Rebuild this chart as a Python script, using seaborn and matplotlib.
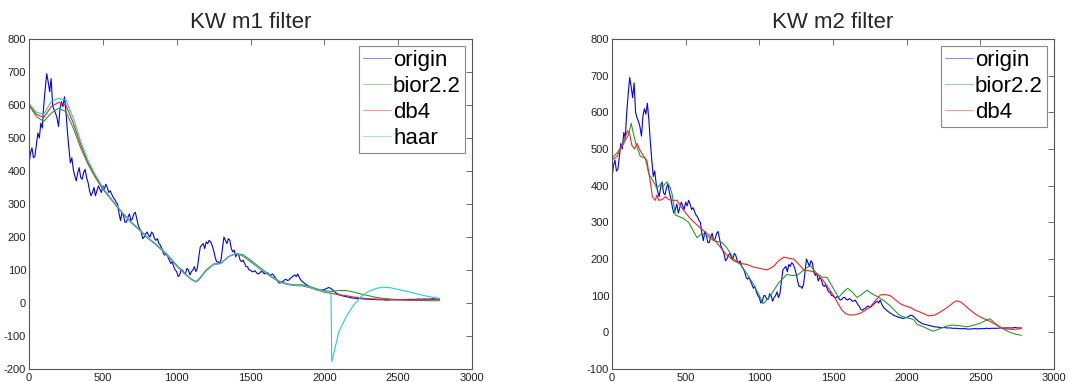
import matplotlib
matplotlib.use("Agg")
import matplotlib.pyplot as plt
import seaborn as sns

# ---- data ----
origin_x = list(range(0, 2781, 10))
origin_y = [420, 455, 470, 440, 445, 480, 515, 500, 545, 530,
            600, 650, 695, 670, 640, 680, 600, 585, 575, 560,
            535, 590, 610, 595, 625, 580, 520, 470, 425, 440,
            405, 385, 370, 395, 410, 380, 375, 395, 405, 380,
            365, 340, 325, 335, 350, 325, 340, 355, 345, 335,
            355, 345, 360, 350, 335, 340, 330, 320, 315, 305,
            300, 270, 250, 275, 265, 245, 245, 260, 270, 250,
            255, 270, 275, 255, 235, 225, 215, 195, 200, 210,
            215, 205, 200, 215, 210, 195, 190, 195, 180, 175,
            165, 150, 145, 150, 140, 130, 120, 125, 110, 100,
            95, 80, 85, 100, 100, 90, 90, 105, 100, 85,
            95, 100, 110, 95, 105, 140, 170, 175, 180, 165,
            185, 180, 190, 185, 175, 160, 140, 125, 125, 120,
            130, 165, 200, 190, 180, 195, 190, 165, 155, 160,
            140, 150, 145, 130, 125, 130, 120, 110, 110, 100,
            100, 95, 95, 98, 92, 88, 90, 95, 95, 90,
            88, 92, 90, 85, 85, 88, 82, 75, 70, 62,
            60, 64, 65, 70, 72, 68, 70, 75, 78, 82,
            85, 80, 88, 78, 70, 65, 62, 58, 55, 52,
            50, 47, 45, 44, 42, 40, 40, 38, 38, 40,
            40, 43, 45, 47, 45, 42, 38, 34, 30, 28,
            25, 23, 22, 21, 20, 19, 18, 17, 16, 15,
            15, 14, 14, 13, 13, 13, 13, 12, 12, 12,
            12, 11, 11, 11, 11, 10, 10, 10, 10, 10,
            10, 9, 9, 9, 9, 10, 10, 10, 9, 10,
            10, 10, 10, 10, 11, 11, 10, 11, 11, 11,
            11, 11, 11, 12, 12, 11, 12, 12, 12, 12,
            12, 12, 12, 13, 13, 12, 12, 12, 12]

m1_x = [0, 50, 100, 150, 200, 250, 300, 350, 400, 450,
        500, 550, 600, 650, 700, 750, 800, 850, 900, 950,
        1000, 1050, 1100, 1130, 1150, 1200, 1250, 1300, 1350, 1400,
        1450, 1500, 1550, 1600, 1650, 1700, 1750, 1800, 1850, 1900,
        1950, 2000, 2050, 2100, 2150, 2200, 2250, 2300, 2350, 2400,
        2450, 2500, 2550, 2600, 2650, 2700, 2780]
m1_bior = [600, 565, 550, 575, 590, 580, 530, 470, 420, 380,
           345, 318, 290, 265, 242, 222, 200, 182, 163, 140,
           115, 92, 72, 65, 72, 100, 118, 120, 140, 150,
           146, 130, 112, 95, 78, 65, 58, 55, 55, 50,
           43, 37, 35, 38, 38, 33, 27, 22, 17, 14,
           12, 10, 9, 8, 8, 7, 7]
m1_db4 = [600, 572, 562, 595, 608, 600, 545, 480, 425, 383,
          347, 318, 290, 264, 240, 220, 198, 180, 160, 137,
          112, 90, 71, 64, 70, 98, 117, 120, 140, 150,
          142, 125, 108, 92, 76, 63, 56, 53, 52, 47,
          40, 33, 29, 25, 22, 18, 15, 13, 12, 11,
          10, 10, 9, 9, 9, 10, 11]
haar_x = [0, 50, 100, 150, 200, 250, 300, 350, 400, 450,
          500, 550, 600, 650, 700, 750, 800, 850, 900, 950,
          1000, 1050, 1100, 1130, 1150, 1200, 1250, 1300, 1350, 1400,
          1450, 1500, 1550, 1600, 1650, 1700, 1750, 1800, 1850, 1900,
          1950, 2000, 2045, 2050, 2100, 2150, 2200, 2250, 2300, 2350,
          2400, 2450, 2500, 2550, 2600, 2650, 2700, 2780]
m1_haar = [605, 578, 572, 610, 620, 615, 560, 490, 432, 388,
           350, 320, 292, 265, 241, 221, 199, 181, 161, 138,
           113, 91, 71, 64, 70, 98, 117, 120, 140, 150,
           143, 126, 109, 93, 77, 64, 57, 54, 53, 48,
           41, 35, 32, -178, -85, -40, -5, 20, 35, 44,
           48, 46, 41, 36, 31, 25, 20, 14]

m2_bior_x = [0, 35, 80, 113, 130, 158, 192, 226, 250, 283,
             305, 328, 350, 373, 395, 407, 430, 460, 486, 520,
             577, 611, 650, 690, 747, 781, 826, 871, 915, 962,
             1000, 1025, 1050, 1075, 1131, 1188, 1220, 1256, 1301, 1346,
             1391, 1430, 1459, 1505, 1538, 1570, 1600, 1630, 1663, 1700,
             1731, 1765, 1800, 1850, 1889, 1930, 1957, 2000, 2047, 2070,
             2115, 2150, 2182, 2227, 2270, 2306, 2360, 2410, 2460, 2500,
             2540, 2565, 2600, 2633, 2670, 2700, 2740, 2779]
m2_bior = [475, 490, 515, 540, 570, 520, 480, 475, 432, 410,
           392, 405, 400, 410, 395, 378, 320, 315, 310, 300,
           258, 270, 262, 250, 245, 230, 200, 185, 160, 130,
           100, 78, 88, 100, 135, 158, 155, 155, 170, 182,
           160, 150, 150, 118, 95, 110, 120, 110, 95, 105,
           115, 105, 98, 85, 72, 55, 45, 40, 35, 22,
           15, 8, 3, 10, 17, 20, 18, 15, 20, 25,
           33, 37, 25, 15, 6, 0, -5, -8]

m2_db4_x = [0, 34, 79, 106, 120, 135, 153, 170, 192, 215,
            237, 260, 274, 294, 305, 317, 340, 362, 385, 407,
            441, 486, 532, 600, 650, 690, 730, 769, 826, 870,
            917, 960, 996, 1052, 1097, 1130, 1165, 1200, 1233, 1270,
            1301, 1335, 1369, 1400, 1436, 1470, 1505, 1535, 1561, 1590,
            1618, 1650, 1686, 1720, 1754, 1790, 1822, 1855, 1889, 1920,
            1957, 1990, 2025, 2060, 2092, 2149, 2190, 2227, 2283, 2320,
            2340, 2370, 2419, 2475, 2520, 2565, 2600, 2644, 2680, 2723,
            2779]
m2_db4 = [470, 480, 520, 550, 540, 510, 500, 515, 495, 480,
          468, 410, 370, 360, 375, 360, 362, 370, 362, 360,
          360, 333, 310, 284, 268, 255, 235, 215, 195, 188,
          185, 178, 175, 170, 180, 195, 205, 202, 200, 185,
          170, 168, 165, 155, 140, 120, 100, 78, 60, 50,
          47, 48, 52, 60, 70, 88, 102, 103, 100, 90,
          78, 72, 68, 60, 55, 45, 47, 55, 70, 82,
          86, 82, 65, 47, 38, 30, 22, 12, 9, 8,
          10]

colors = {"origin": "#0000ff", "bior2.2": "#22a022", "db4": "#ff2020", "haar": "#20d0d0"}

sns.set_style("white")
plt.rcParams["font.family"] = ["Liberation Sans", "DejaVu Sans"]
plt.rcParams.update({
    "axes.unicode_minus": False,
    "xtick.direction": "in", "ytick.direction": "in",
    "xtick.top": True, "ytick.right": True,
    "xtick.major.size": 4, "ytick.major.size": 4,
    "xtick.major.width": 0.6, "ytick.major.width": 0.6,
    "xtick.color": "#555555", "ytick.color": "#555555",
    "xtick.labelcolor": "#222222", "ytick.labelcolor": "#222222",
    "xtick.labelsize": 8, "ytick.labelsize": 8,
    "xtick.major.pad": 3, "ytick.major.pad": 2,
})

fig = plt.figure(figsize=(10.7, 3.82), dpi=100)
ax1 = fig.add_axes([29 / 1070, 13 / 382, 443 / 1070, 330 / 382])
ax2 = fig.add_axes([612 / 1070, 13 / 382, 442 / 1070, 330 / 382])

lw = 0.8
sns.lineplot(x=origin_x, y=origin_y, ax=ax1, color=colors["origin"], lw=lw, label="origin", sort=False, estimator=None)
sns.lineplot(x=m1_x, y=m1_bior, ax=ax1, color=colors["bior2.2"], lw=lw, label="bior2.2", sort=False, estimator=None)
sns.lineplot(x=m1_x, y=m1_db4, ax=ax1, color=colors["db4"], lw=lw, label="db4", sort=False, estimator=None)
sns.lineplot(x=haar_x, y=m1_haar, ax=ax1, color=colors["haar"], lw=lw, label="haar", sort=False, estimator=None)

sns.lineplot(x=origin_x, y=origin_y, ax=ax2, color=colors["origin"], lw=lw, label="origin", sort=False, estimator=None)
sns.lineplot(x=m2_bior_x, y=m2_bior, ax=ax2, color=colors["bior2.2"], lw=lw, label="bior2.2", sort=False, estimator=None)
sns.lineplot(x=m2_db4_x, y=m2_db4, ax=ax2, color=colors["db4"], lw=lw, label="db4", sort=False, estimator=None)

for ax, title, ylo in [(ax1, "KW m1 filter", -200), (ax2, "KW m2 filter", -100)]:
    ax.set_xlim(0, 3000)
    ax.set_ylim(ylo, 800)
    ax.set_xticks(range(0, 3001, 500))
    ax.set_yticks(range(ylo, 801, 100))
    ax.set_title(title, fontsize=16, pad=8)
    ax.set_xlabel("")
    ax.set_ylabel("")
    for s in ax.spines.values():
        s.set_color("#555555")
        s.set_linewidth(0.8)
    leg = ax.legend(loc="upper right", fontsize=16, frameon=True, fancybox=False,
                    handlelength=1.25, handletextpad=0.1, labelspacing=0.22,
                    borderpad=0.2, borderaxespad=0.3, framealpha=1)
    leg.get_frame().set_edgecolor("#888888")
    leg.get_frame().set_linewidth(0.8)
    for h in leg.get_lines():
        h.set_alpha(0.45)
    for t in leg.get_texts():
        t.set_color("black")

fig.savefig("out.png", dpi=100)
